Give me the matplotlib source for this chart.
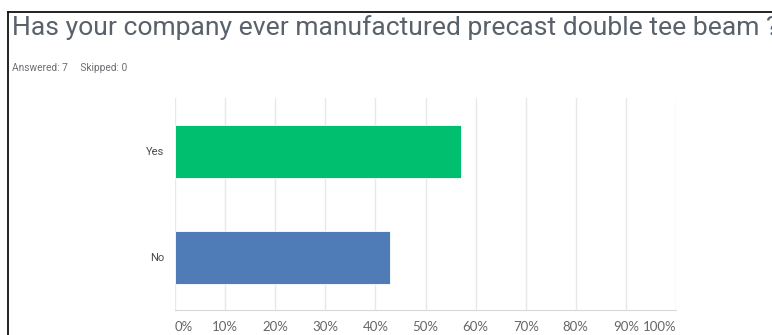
import matplotlib
matplotlib.use("Agg")
import matplotlib.pyplot as plt
from matplotlib.lines import Line2D

answers = ["No", "Yes"]
shares = [3 / 7 * 100, 4 / 7 * 100]
bar_colors = ["#4f7cb6", "#00bf6f"]
ticks = list(range(0, 101, 10))
tick_labels = [f"{t}%" for t in ticks]

W, H = 772, 335
fig = plt.figure(figsize=(W / 100, H / 100), dpi=100)
fig.patch.set_facecolor("white")

# panel frame (top and left edges only)
fig.add_artist(Line2D([8 / W, 8 / W], [0, 1 - 11.5 / H], color="#111111", lw=1.3))
fig.add_artist(Line2D([8 / W, 1], [1 - 11.5 / H, 1 - 11.5 / H], color="#111111", lw=1.3))

fig.text(12 / W, 1 - 35 / H, "Has your company ever manufactured precast double tee beam ?",
         ha="left", va="baseline", fontsize=19.05, family="Roboto",
         color="#59616a")
fig.text(12 / W, 1 - 68 / H, "Answered: 7     Skipped: 0",
         ha="left", va="center", fontsize=7.3, family="Roboto", color="#6b6f73")

ax = fig.add_axes([175 / W, 1 - 310 / H, 501 / W, 212 / H])
ax.barh(answers, shares, height=0.5, color=bar_colors, edgecolor="white", linewidth=0.6, zorder=3)
ax.set_xlim(0, 100)
ax.set_ylim(-0.5, 1.5)
ax.set_xticks(ticks)
ax.set_xticklabels(tick_labels, family="Lato", fontsize=9.5, color="#666666")
ax.grid(axis="x", color="#e8e8e8", lw=1, zorder=0)
for side in ["top", "right", "left"]:
    ax.spines[side].set_visible(False)
ax.spines["bottom"].set_color("#d8d8d8")
ax.tick_params(axis="x", length=0, pad=8)
ax.tick_params(axis="y", length=0, pad=8, labelsize=8, labelcolor="#4a4a4a")
for lbl in ax.get_yticklabels():
    lbl.set_family("Roboto")

# outer tick labels stay inside the axis span
xlabels = ax.get_xticklabels()
xlabels[0].set_ha("left")
xlabels[-1].set_ha("right")

fig.savefig("out.png", dpi=100, facecolor="white")
